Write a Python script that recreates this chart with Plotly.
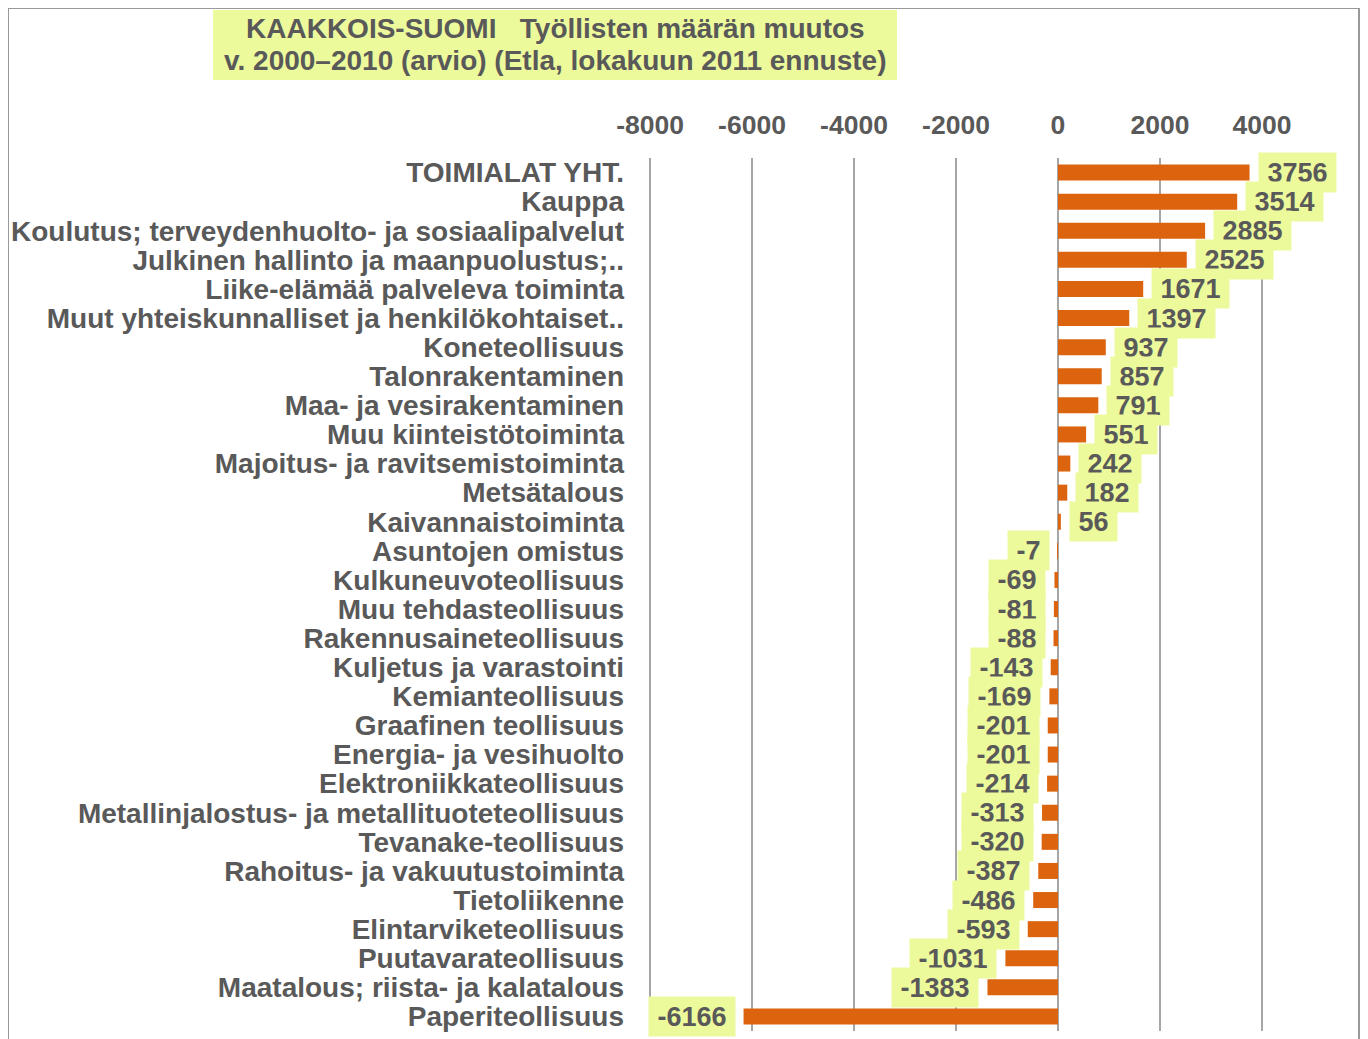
import plotly.graph_objects as go

categories = [
    "TOIMIALAT YHT.", "Kauppa", "Koulutus; terveydenhuolto- ja sosiaalipalvelut",
    "Julkinen hallinto ja maanpuolustus;..", "Liike-elämää palveleva toiminta",
    "Muut yhteiskunnalliset ja henkilökohtaiset..", "Koneteollisuus", "Talonrakentaminen",
    "Maa- ja vesirakentaminen", "Muu kiinteistötoiminta", "Majoitus- ja ravitsemistoiminta",
    "Metsätalous", "Kaivannaistoiminta", "Asuntojen omistus", "Kulkuneuvoteollisuus",
    "Muu tehdasteollisuus", "Rakennusaineteollisuus", "Kuljetus ja varastointi",
    "Kemianteollisuus", "Graafinen teollisuus", "Energia- ja vesihuolto",
    "Elektroniikkateollisuus", "Metallinjalostus- ja metallituoteteollisuus",
    "Tevanake-teollisuus", "Rahoitus- ja vakuutustoiminta", "Tietoliikenne",
    "Elintarviketeollisuus", "Puutavarateollisuus", "Maatalous; riista- ja kalatalous",
    "Paperiteollisuus",
]
values = [3756, 3514, 2885, 2525, 1671, 1397, 937, 857, 791, 551, 242, 182, 56,
          -7, -69, -81, -88, -143, -169, -201, -201, -214, -313, -320, -387,
          -486, -593, -1031, -1383, -6166]
x_ticks = [-8000, -6000, -4000, -2000, 0, 2000, 4000]
title_lines = ["KAAKKOIS-SUOMI   Työllisten määrän muutos",
               "v. 2000–2010 (arvio) (Etla, lokakuun 2011 ennuste)"]

# page body has an 8px margin, so the figure itself is 8px smaller
OFF = 8
W, H = 1368 - OFF, 1039 - OFF
L, R, T, B = 649 - OFF, 1263 - OFF, 158 - OFF, 1031 - OFF
FONT = "Arial, Liberation Sans, sans-serif"
TXT = "#595959"
BAR = "#DD640E"
YEL = "#EDFA9C"
GRID = "#A6A6A6"
VAL_SIZE = 27


def px_x(px):
    return (px - OFF - L) / (R - L)


def px_y(py):
    return (B - (py - OFF)) / (B - T)


fig = go.Figure(go.Bar(
    x=values, y=categories, orientation="h",
    marker=dict(color=BAR, line=dict(width=0)),
    width=0.55,
))

annotations = []
for c, v in zip(categories, values):
    t = str(v)
    tw = VAL_SIZE * (0.556 * sum(1 for ch in t if ch.isdigit()) + 0.333 * t.count("-"))
    annotations.append(dict(
        x=v, y=c, xref="x", yref="y", text="<b>%s</b>" % t, showarrow=False,
        xanchor="left" if v >= 0 else "right",
        xshift=8 if v >= 0 else -8,
        bgcolor=YEL, width=tw + 15, height=37,
        font=dict(family=FONT, size=VAL_SIZE, color=TXT),
    ))

for line, yc in zip(title_lines, [28, 61]):
    annotations.append(dict(
        x=px_x(555), y=px_y(yc), xref="paper", yref="paper",
        text="<b>%s</b>" % line, showarrow=False,
        xanchor="center", yanchor="middle",
        font=dict(family=FONT, size=28, color=TXT),
    ))

fig.update_layout(
    width=W, height=H,
    margin=dict(l=L, r=W - R, t=T, b=H - B, pad=0, autoexpand=False),
    paper_bgcolor="white", plot_bgcolor="white",
    showlegend=False,
    bargap=0.45,
    font=dict(family=FONT, color=TXT),
    xaxis=dict(
        side="top", range=[-8020, 4020], tickvals=x_ticks,
        ticktext=["<b>%d</b>" % v for v in x_ticks],
        tickfont=dict(family=FONT, size=26.5, color=TXT),
        showgrid=True, gridcolor=GRID, gridwidth=1.5,
        zeroline=True, zerolinecolor=GRID, zerolinewidth=1.5,
        showline=False, ticks="", ticklabelstandoff=18, automargin=False,
    ),
    yaxis=dict(
        range=[len(categories) - 0.5, -0.5], categoryorder="array",
        categoryarray=categories,
        tickmode="array", tickvals=categories,
        ticktext=["<b>%s</b>" % c for c in categories],
        tickfont=dict(family=FONT, size=28, color=TXT),
        showgrid=False, zeroline=False, showline=False, ticks="",
        ticklabelstandoff=24, automargin=False,
    ),
    annotations=annotations,
    shapes=[
        dict(type="rect", xref="paper", yref="paper",
             x0=px_x(8), x1=px_x(1359), y0=px_y(1060), y1=px_y(8),
             line=dict(color="#999999", width=2), fillcolor="rgba(0,0,0,0)",
             layer="below"),
        dict(type="rect", xref="paper", yref="paper",
             x0=px_x(213), x1=px_x(897), y0=px_y(80), y1=px_y(10),
             line=dict(width=0), fillcolor=YEL, layer="below"),
    ],
)

fig.write_html("out.html")
